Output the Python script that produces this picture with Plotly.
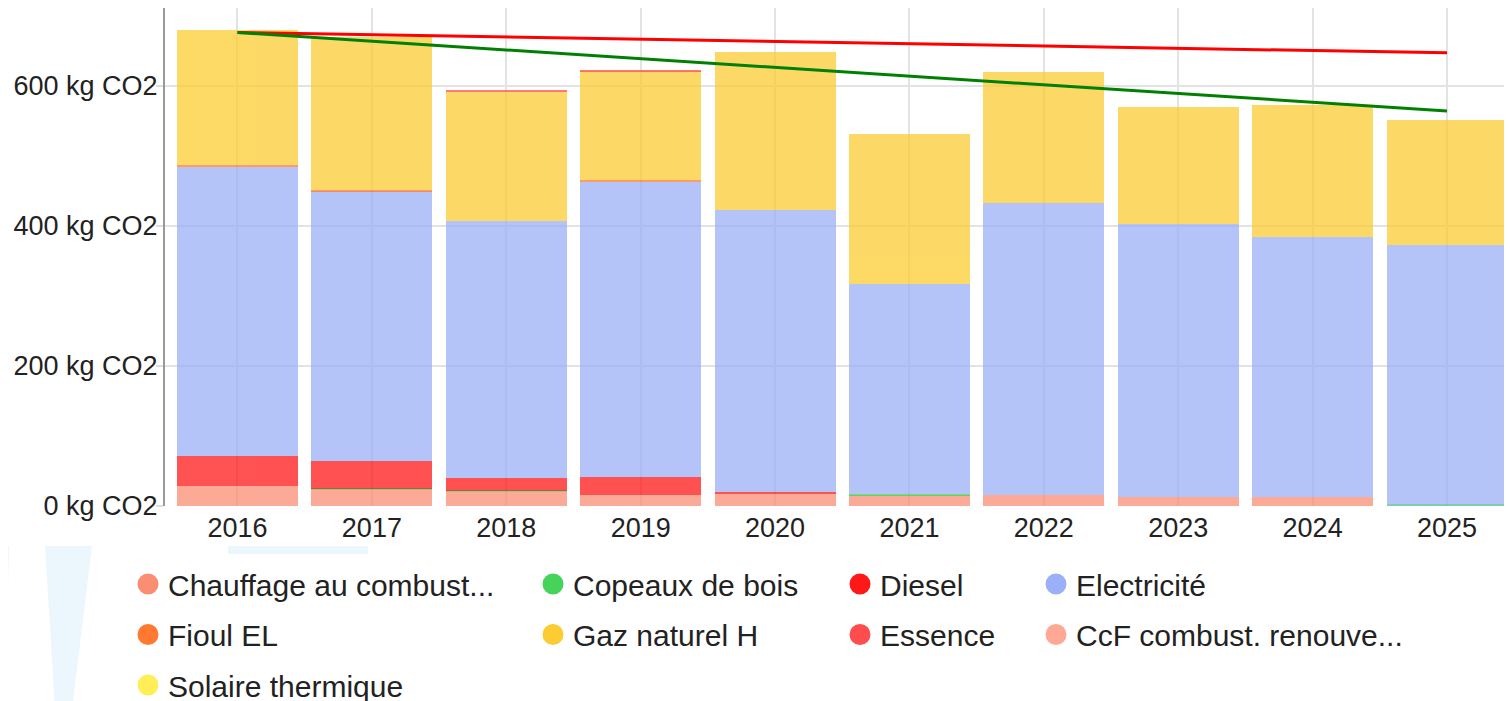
import plotly.graph_objects as go

# ---------------- data ----------------
years = [2016, 2017, 2018, 2019, 2020, 2021, 2022, 2023, 2024, 2025]
year_labels = [str(y) for y in years]

chauffage = [28.5, 23, 20.5, 15.5, 17, 15, 15.5, 13.5, 13, 0]
copeaux = [0, 1.5, 1.5, 0, 0, 1.5, 0, 0, 0, 2]
diesel = [43.5, 40, 17.5, 25.5, 3.5, 0, 0, 0, 0, 0]
electricite = [412.5, 385, 367, 422, 402, 300, 417, 389, 371, 370]
fioul = [2, 2, 0, 2, 0, 0, 0, 0, 0, 0]
gaz = [192.5, 218, 185, 155.5, 226, 214, 187, 167.5, 189, 179.5]
essence = [0, 0, 1.5, 1.5, 0, 0, 0, 0, 0, 0]
ccf = [0, 0, 0, 0, 0, 0, 0, 0, 0, 0]
solaire = [0, 0, 0, 0, 0, 0, 0, 0, 0, 0]

trend_years = [2016, 2025]
trend_red = [676, 647]
trend_green = [676, 564]

y_ticks = [0, 200, 400, 600]
y_tick_labels = ["0 kg CO2", "200 kg CO2", "400 kg CO2", "600 kg CO2"]

series_names = ["Chauffage au combust...", "Copeaux de bois", "Diesel", "Electricité",
                "Fioul EL", "Gaz naturel H", "Essence", "CcF combust. renouve...",
                "Solaire thermique"]
series_values = [chauffage, copeaux, diesel, electricite, fioul, gaz, essence, ccf, solaire]
series_colors = ["#F98E73", "#45D35A", "#FF1818", "#9BB0F6", "#FF7A30",
                 "#FCCC33", "#FF4C4C", "#FFA896", "#FFEE55"]
# legend column of each series
series_legend = ["legend", "legend2", "legend3", "legend4", "legend",
                 "legend2", "legend3", "legend4", "legend"]

# ---------------- geometry helpers (pixels) ----------------
# the page body adds an 8px offset to the figure
OFF = 8
W, H = 1512, 701
L, R, T, B = 157, 8, 0, 203
PW, PH = W - L - R, H - T - B

def px(xs):
    return (xs - OFF - L) / PW

def py(ys):
    return (H - B - (ys - OFF)) / PH

FONT = "Liberation Sans, Arial, Helvetica, sans-serif"
TXT = "#222222"

fig = go.Figure()

for name, vals, col in zip(series_names, series_values, series_colors):
    fig.add_trace(go.Bar(
        x=years, y=vals, name=name, marker=dict(color=col, line=dict(width=0)),
        opacity=0.75, width=0.9, showlegend=False, hoverinfo="x+y+name",
    ))

fig.add_trace(go.Scatter(x=trend_years, y=trend_red, mode="lines",
                         line=dict(color="#FF0000", width=3), showlegend=False,
                         hoverinfo="skip"))
fig.add_trace(go.Scatter(x=trend_years, y=trend_green, mode="lines",
                         line=dict(color="#008000", width=3), showlegend=False,
                         hoverinfo="skip"))

# legend entries (circles)
for name, col, lg in zip(series_names, series_colors, series_legend):
    fig.add_trace(go.Scatter(
        x=[None], y=[None], mode="markers", name=name, legend=lg, legendgroup=name,
        marker=dict(size=16, color=col, line=dict(width=5, color=col)),
        showlegend=True, hoverinfo="skip",
    ))

# faint watermark shapes
wm = "rgba(205,232,250,0.38)"
shapes = [
    dict(type="path", xref="paper", yref="paper", layer="below", fillcolor=wm, line=dict(width=0),
         path=f"M {px(0)} {py(546)} L {px(9)} {py(546)} L {px(5)} {py(709)} L {px(0)} {py(709)} Z"),
    dict(type="path", xref="paper", yref="paper", layer="below", fillcolor=wm, line=dict(width=0),
         path=f"M {px(45)} {py(546)} L {px(92)} {py(546)} L {px(72)} {py(709)} L {px(55)} {py(709)} Z"),
    dict(type="path", xref="paper", yref="paper", layer="below", fillcolor=wm, line=dict(width=0),
         path=f"M {px(228)} {py(546)} L {px(368)} {py(546)} L {px(368)} {py(554)} L {px(228)} {py(554)} Z"),
]

legend_common = dict(
    xref="container", yref="container", xanchor="left", yanchor="top",
    orientation="v", font=dict(family=FONT, size=30, color=TXT),
    tracegroupgap=8.5, bgcolor="rgba(0,0,0,0)", borderwidth=0,
    itemclick=False, itemdoubleclick=False,
)
leg_top = 1 - 550 / H

fig.update_layout(
    width=W, height=H,
    margin=dict(l=L, r=R, t=T, b=B, pad=0, autoexpand=False),
    barmode="stack",
    paper_bgcolor="white", plot_bgcolor="white",
    font=dict(family=FONT, size=27, color=TXT),
    shapes=shapes,
    showlegend=True,
    legend=dict(x=120 / W, y=leg_top, **legend_common),
    legend2=dict(x=525 / W, y=leg_top, **legend_common),
    legend3=dict(x=832 / W, y=leg_top, **legend_common),
    legend4=dict(x=1028 / W, y=leg_top, **legend_common),
    xaxis=dict(
        type="linear",
        range=[2015.4606, 2025.4836], tickmode="array", tickvals=years, ticktext=year_labels,
        showgrid=True, gridcolor="#E3E3E3", gridwidth=1.5, zeroline=False, showline=False,
        ticks="", ticklabelstandoff=3,
        tickfont=dict(family=FONT, size=27, color=TXT), fixedrange=True,
    ),
    yaxis=dict(
        type="linear",
        range=[0, 711], tickmode="array", tickvals=y_ticks, ticktext=y_tick_labels,
        showgrid=True, gridcolor="#E3E3E3", gridwidth=1.5, zeroline=False,
        showline=True, linecolor="#999999", linewidth=2,
        ticks="outside", ticklen=7, tickcolor="#DDDDDD", tickwidth=1.5,
        ticklabelstandoff=-7,
        tickfont=dict(family=FONT, size=27, color=TXT), fixedrange=True,
    ),
)

fig.write_html("out.html")
